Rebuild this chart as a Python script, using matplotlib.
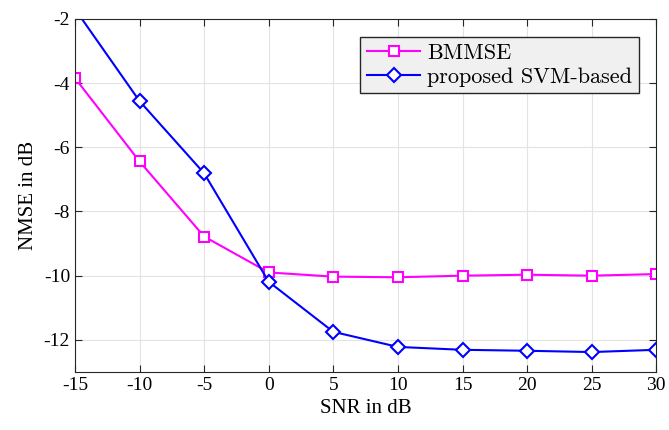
import matplotlib
matplotlib.use("Agg")
import matplotlib.pyplot as plt

plt.rcParams["font.family"] = ["Liberation Serif", "DejaVu Serif"]
plt.rcParams["mathtext.fontset"] = "stix"

snr = [-15, -10, -5, 0, 5, 10, 15, 20, 25, 30]
bmmse = [-3.84, -6.44, -8.78, -9.90, -10.03, -10.05, -10.00, -9.97, -10.00, -9.95]
svm = [-1.69, -4.56, -6.81, -10.19, -11.75, -12.22, -12.31, -12.34, -12.38, -12.31]

fig = plt.figure(figsize=(6.69, 4.30), dpi=100)
ax = fig.add_axes([0.112, 0.135, 0.869, 0.821])

ax.plot(snr, bmmse, color="#ff00ff", lw=1.5, marker="s", ms=7, mfc="white",
        mew=1.5, label="BMMSE")
ax.plot(snr, svm, color="#0000ff", lw=1.5, marker="D", ms=7, mfc="white",
        mew=1.5, label="proposed SVM-based")

ax.set_xlim(-15, 30)
ax.set_ylim(-13, -2)
ax.set_xticks(range(-15, 31, 5))
ax.set_yticks([-12, -10, -8, -6, -4, -2])
ax.set_xticklabels([str(v) for v in range(-15, 31, 5)])
ax.set_yticklabels([str(v) for v in [-12, -10, -8, -6, -4, -2]])
ax.grid(True, color="#e3e3e3", lw=0.8)
ax.set_axisbelow(True)
ax.tick_params(direction="in", top=True, right=True, labelsize=14, length=5,
               color="#262626")
for s in ax.spines.values():
    s.set_color("#262626")
    s.set_linewidth(0.8)

ax.set_xlabel("SNR in dB", fontsize=15)
ax.set_ylabel("NMSE in dB", fontsize=15)

leg = ax.legend(loc="upper right", prop={"family": "cmr10", "size": 16},
                fancybox=False, bbox_to_anchor=(0.97, 0.95), borderpad=0.3,
                labelspacing=0.2, handlelength=2.4, handletextpad=0.3,
                borderaxespad=0)
leg.get_frame().set_facecolor("#f0f0f0")
leg.get_frame().set_edgecolor("#262626")
leg.get_frame().set_alpha(1)

fig.savefig("out.png", dpi=100)
